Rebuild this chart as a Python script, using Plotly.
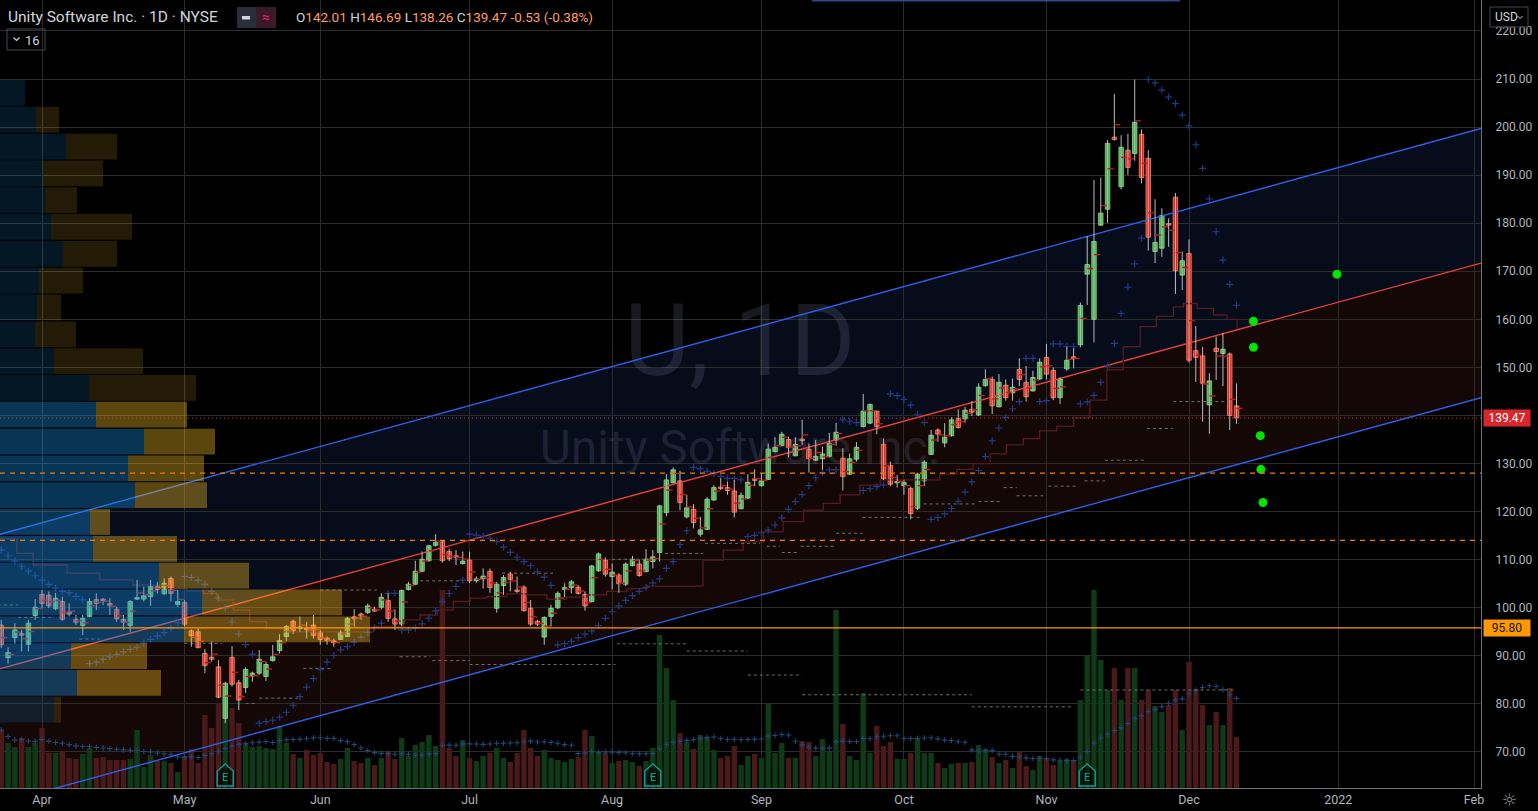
import plotly.graph_objects as go

# ---------------- DATA ----------------
first_index = -6  # bar index of first visible candle (0 = Apr 1 2021)
opens = [96.4, 89.6, 93.8, 94.4, 92.4, 98.4,
         102.8, 102.6, 99.8, 101.3, 99.1, 97.6, 96.3, 98.2, 101.7, 101.7,
         100.9, 99.7, 97.6, 96.3, 101.8, 101.8, 102.3, 104.4, 102.9, 106.1,
         100.7, 101.1, 95.2, 95.0, 90.5, 89.7, 87.7, 77.0, 89.7, 84.4,
         83.4, 85.8, 86.4, 85.7, 89.0, 91.1, 94.0, 97.2, 95.7, 95.7,
         96.4, 95.0, 93.7, 93.1, 93.4, 94.0, 98.1, 98.7, 99.0, 99.7,
         100.1, 101.5, 97.7, 96.6, 103.8, 104.9, 107.6, 109.8, 113.0, 113.8,
         111.7, 110.8, 109.2, 109.9, 105.6, 106.0, 107.6, 99.9, 104.6, 107.0,
         103.7, 104.3, 99.9, 97.2, 93.9, 98.2, 100.0, 103.8, 104.2, 104.3,
         102.8, 101.3, 107.7, 109.9, 106.5, 106.8, 104.9, 108.8, 109.1, 107.5,
         109.6, 111.5, 119.8, 126.0, 126.4, 118.9, 120.5, 115.3, 116.3, 122.4,
         125.0, 125.0, 124.3, 120.6, 122.8, 126.8, 125.4, 126.7, 132.5, 133.7,
         135.0, 131.6, 135.1, 133.0, 130.7, 131.0, 131.5, 134.9, 131.1, 127.8,
         130.9, 137.7, 138.4, 140.9, 134.0, 129.6, 126.0, 125.4, 124.8, 120.7,
         126.4, 131.9, 137.0, 134.3, 135.8, 139.4, 139.3, 141.3, 140.1, 146.2,
         147.5, 141.8, 146.3, 144.7, 149.6, 146.9, 145.1, 147.6, 152.1, 149.4,
         143.7, 149.7, 152.2, 154.7, 169.4, 160.0, 179.6, 182.9, 197.9, 187.6,
         195.2, 194.5, 198.5, 193.5, 174.1, 174.8, 179.8, 185.4, 169.2, 173.7,
         153.5, 152.4, 142.2, 154.0, 152.9, 152.8, 142.01]
highs = [97.5, 91.8, 96.8, 95.4, 97.5, 101.8,
         103.7, 103.4, 103.1, 102.3, 100.9, 98.5, 98.5, 102.0, 103.0, 102.0,
         102.0, 100.2, 98.5, 101.6, 105.8, 104.4, 105.8, 105.4, 106.1, 106.5,
         103.7, 101.6, 95.5, 95.7, 91.4, 93.0, 89.1, 84.6, 92.0, 85.0,
         87.6, 86.7, 91.2, 88.8, 92.3, 94.5, 96.4, 97.5, 98.2, 97.1,
         98.5, 95.4, 94.0, 93.6, 95.4, 98.1, 99.7, 99.0, 100.9, 100.2,
         103.0, 103.0, 99.7, 103.8, 105.4, 109.8, 111.7, 113.1, 115.3, 114.0,
         112.2, 112.0, 111.7, 111.7, 106.5, 108.2, 108.2, 105.4, 106.8, 107.5,
         106.5, 104.7, 101.6, 97.5, 98.2, 100.6, 103.4, 105.1, 105.8, 104.7,
         103.4, 108.9, 111.5, 110.5, 109.2, 107.2, 109.4, 110.8, 110.0, 112.2,
         112.0, 121.4, 127.8, 129.2, 128.5, 123.5, 121.6, 118.9, 123.0, 125.5,
         126.9, 126.2, 126.6, 124.0, 127.8, 128.8, 128.0, 134.2, 135.5, 136.6,
         135.6, 135.5, 139.1, 134.2, 134.9, 133.5, 136.4, 138.5, 133.2, 132.1,
         134.5, 144.5, 142.5, 141.0, 135.2, 130.4, 127.6, 126.6, 125.2, 128.1,
         130.7, 137.0, 137.3, 138.4, 139.6, 141.3, 141.8, 143.0, 146.7, 149.6,
         148.1, 148.6, 147.5, 147.7, 151.9, 150.3, 149.3, 151.9, 154.9, 150.0,
         147.9, 154.3, 154.0, 163.5, 177.3, 189.0, 189.5, 197.3, 206.9, 198.3,
         198.6, 209.9, 199.5, 195.2, 185.0, 183.1, 181.0, 186.3, 174.1, 176.6,
         158.6, 154.3, 148.8, 156.4, 157.2, 153.1, 146.69]
lows = [91.6, 88.4, 92.6, 90.9, 90.9, 97.5,
        99.9, 99.9, 99.5, 97.3, 98.2, 96.4, 94.3, 98.0, 99.5, 100.6,
        98.5, 97.1, 95.4, 95.0, 101.6, 101.3, 100.4, 103.0, 102.7, 101.3,
        100.2, 96.1, 91.9, 91.6, 86.4, 88.8, 81.2, 76.0, 83.6, 78.7,
        82.3, 84.6, 86.0, 84.8, 88.8, 90.5, 93.0, 94.5, 95.0, 93.6,
        93.6, 92.3, 92.3, 91.9, 93.3, 93.9, 96.1, 97.5, 98.7, 99.2,
        99.7, 97.1, 95.4, 96.2, 103.6, 104.7, 107.4, 109.6, 112.7, 109.4,
        109.7, 108.9, 109.0, 105.1, 105.2, 104.0, 103.1, 99.0, 102.7, 103.4,
        103.1, 99.2, 96.2, 96.2, 92.3, 96.1, 99.7, 102.2, 103.0, 102.7,
        99.4, 101.1, 107.5, 106.5, 103.8, 103.1, 104.5, 108.6, 106.5, 107.4,
        108.2, 109.6, 119.0, 125.9, 120.3, 118.6, 116.5, 114.8, 116.2, 122.3,
        124.5, 123.5, 118.8, 120.5, 122.6, 125.3, 125.2, 126.6, 132.3, 133.7,
        131.3, 131.6, 133.9, 128.1, 130.5, 128.7, 131.3, 133.7, 124.4, 127.6,
        130.4, 137.5, 138.2, 136.1, 126.6, 125.3, 125.0, 123.5, 118.4, 120.3,
        125.3, 131.8, 134.5, 133.4, 135.6, 137.3, 138.5, 139.9, 139.9, 146.0,
        140.3, 141.7, 143.1, 143.1, 146.1, 142.9, 145.0, 147.4, 147.5, 143.2,
        142.4, 149.3, 149.8, 154.2, 163.0, 155.2, 179.4, 180.1, 197.2, 187.0,
        190.0, 193.0, 188.3, 174.3, 171.7, 173.0, 175.1, 165.3, 166.1, 151.0,
        147.0, 138.7, 136.2, 147.4, 146.1, 137.0, 138.26]
closes = [92.3, 90.7, 95.4, 94.3, 96.8, 100.1,
          100.9, 100.4, 102.0, 97.6, 98.7, 97.0, 97.8, 101.3, 100.9, 101.5,
          100.5, 97.7, 97.0, 101.3, 101.9, 102.5, 104.4, 103.8, 105.1, 103.0,
          101.3, 96.6, 94.2, 91.7, 88.0, 89.3, 81.4, 84.3, 84.1, 80.8,
          87.2, 86.4, 89.3, 88.2, 89.8, 93.2, 96.1, 95.2, 96.0, 95.4,
          94.2, 93.4, 93.2, 92.7, 94.9, 97.8, 97.7, 98.3, 100.4, 99.3,
          102.2, 97.8, 96.6, 103.6, 104.9, 107.6, 110.1, 112.9, 113.6, 109.8,
          110.2, 110.5, 109.7, 105.6, 106.0, 106.6, 104.2, 104.9, 106.3, 105.9,
          103.4, 99.4, 96.6, 96.6, 98.0, 99.9, 103.0, 104.2, 105.4, 103.0,
          100.4, 108.7, 111.2, 107.0, 107.4, 105.0, 109.1, 110.1, 106.7, 110.1,
          110.6, 121.2, 126.6, 128.7, 121.9, 120.8, 117.7, 116.2, 122.6, 125.0,
          124.8, 124.4, 119.9, 123.4, 126.1, 126.5, 126.4, 133.0, 133.4, 136.1,
          133.3, 134.0, 134.8, 131.0, 131.5, 132.0, 134.2, 136.5, 127.3, 131.0,
          133.4, 140.9, 142.3, 137.7, 126.8, 125.7, 126.2, 126.1, 119.6, 127.8,
          130.3, 135.9, 136.1, 135.5, 139.1, 137.5, 141.1, 140.7, 145.9, 147.5,
          142.0, 146.9, 143.7, 145.9, 147.5, 143.9, 147.9, 151.1, 148.6, 143.7,
          147.6, 151.5, 151.8, 162.9, 171.4, 176.2, 182.1, 196.6, 197.4, 195.8,
          191.6, 201.0, 189.5, 177.1, 176.0, 181.6, 179.6, 170.1, 172.2, 151.5,
          152.1, 146.7, 147.2, 153.3, 153.8, 140.00, 139.47]
volumes = [5.8, 4.5, 4.1, 5.0, 4.1, 4.5,
           6.0, 3.5, 3.5, 3.7, 3.0, 2.9, 3.4, 4.0, 3.0, 3.1,
           2.8, 2.8, 2.8, 2.9, 5.8, 2.1, 3.3, 2.7, 2.7, 2.5,
           1.6, 3.2, 3.9, 2.5, 7.3, 6.0, 8.5, 9.5, 8.0, 6.5,
           4.5, 4.1, 4.2, 4.0, 3.9, 6.2, 4.5, 3.4, 3.0, 3.8,
           3.3, 3.5, 2.6, 2.4, 2.9, 4.0, 2.7, 2.5, 3.0, 2.3,
           3.0, 3.6, 2.9, 5.0, 3.2, 4.3, 4.6, 5.3, 4.2, 19.8,
           4.0, 3.2, 4.8, 3.0, 2.7, 3.2, 3.5, 4.0, 3.0, 2.6,
           3.5, 5.8, 4.0, 3.2, 3.8, 3.0, 2.8, 2.6, 2.9, 3.1,
           5.8, 5.2, 3.7, 3.5, 2.5, 2.7, 2.8, 2.6, 2.2, 2.7,
           4.0, 15.3, 12.0, 8.8, 5.5, 4.6, 3.9, 5.3, 5.0, 3.8,
           3.0, 3.2, 4.2, 2.3, 3.2, 3.4, 3.0, 8.4, 3.5, 4.5,
           3.0, 3.0, 4.7, 4.6, 3.2, 4.9, 3.6, 17.8, 6.4, 3.2,
           2.8, 9.5, 3.5, 6.2, 4.2, 4.6, 2.9, 2.9, 3.5, 5.0,
           3.5, 3.5, 2.5, 2.0, 2.4, 2.5, 2.5, 2.6, 4.3, 3.9,
           3.1, 2.5, 2.8, 2.0, 3.6, 2.2, 1.8, 3.2, 3.0, 2.3,
           2.7, 2.9, 2.8, 8.8, 13.3, 19.8, 12.8, 9.8, 12.0, 8.8,
           12.0, 12.0, 8.8, 9.8, 8.2, 7.6, 8.3, 9.8, 5.8, 12.6,
           9.8, 8.3, 6.3, 7.6, 6.3, 10.0, 5.1]

month_ticks = [0, 21, 41, 63, 84, 106, 127, 148, 169, 191, 211]
month_labels = ["Apr", "May", "Jun", "Jul", "Aug", "Sep", "Oct", "Nov", "Dec", "2022", "Feb"]
price_ticks = [70, 80, 90, 100, 110, 120, 130, 140, 150, 160, 170, 180, 190, 200, 210, 220]

# slow moving average (step line)
ma_idx = [-6.2, -3.7, -1.3, 3.7, 8.5, 13.4, 18.4, 21.3, 23.8, 25.8, 28.2, 30.6, 33.1, 35.6,
          48.8, 53.2, 55.7, 58.2, 60.6, 63.1, 65.5, 68.5, 71.4, 74.4, 77.3, 80.3, 83.2, 86.2, 89.1,
          97.4, 100.4, 103.3, 106.3, 109.2, 112.2, 115.1, 117.6, 120.5, 123.5, 126.4, 129.9,
          132.3, 134.8, 137.2, 139.7, 142.1, 144.6, 147.0, 149.5, 152.0, 154.4, 156.9, 159.3,
          161.8, 164.2, 166.7, 168.2, 170.2, 172.6, 174.6, 176.1]
ma_val = [114.4, 111.3, 108.9, 107.2, 105.8, 104.7, 104.0, 103.5, 103.0, 101.6, 99.5, 97.1, 95.7, 95.0,
          96.1, 97.5, 98.5, 99.5, 101.3, 102.0, 102.3, 102.9, 102.7, 101.8, 102.2, 102.7, 103.4, 104.0, 104.5,
          109.9, 112.0, 113.7, 115.8, 117.9, 120.3, 121.7, 123.5, 125.5, 126.6, 126.6, 126.6,
          127.8, 128.8, 130.0, 132.0, 133.9, 135.2, 136.8, 137.8, 139.5, 143.2, 149.5, 154.3,
          158.5, 160.6, 162.6, 163.3, 162.3, 160.9, 160.0, 158.1]

# grey dashed level segments (start bar, end bar, price)
seg_start = [-6.5, -3.5, 5.5, 21.0, 30.0, 32.0, 38.5, 41.0, 52.7, 55.7, 57.5, 63.0, 67.8, 84.0, 84.7,
             91.8, 95.0, 97.7, 104.0, 106.8, 109.0, 111.8, 112.0, 117.0, 120.9, 129.9, 137.0, 138.0,
             141.7, 143.6, 148.3, 153.0, 153.6, 156.6, 162.8, 166.7]
seg_end = [-3.5, 1.5, 8.5, 26.5, 31.6, 38.0, 42.5, 49.3, 57.2, 62.0, 63.0, 84.5, 75.3, 89.6, 95.0,
           97.4, 104.0, 105.8, 112.0, 108.7, 111.5, 117.0, 137.0, 120.9, 129.4, 137.7, 152.0, 141.4,
           143.6, 147.5, 152.5, 176.0, 156.6, 162.5, 166.6, 175.3]
seg_level = [100.6, 98.0, 93.5, 92.6, 80.1, 81.2, 87.4, 103.7, 89.8, 105.6, 89.0, 88.2, 107.2, 110.1, 92.5,
             111.3, 91.0, 113.4, 86.0, 112.8, 111.5, 112.8, 81.9, 115.5, 118.8, 121.6, 79.4, 122.1,
             125.0, 123.3, 125.3, 82.9, 126.4, 130.7, 137.3, 142.9]

# visible-range volume profile (24 rows, top row first)
prof_rows = 24
prof_up = [2.5, 3.6, 6.6, 4.3, 4.5, 5.1, 6.3, 3.9, 3.7, 3.5, 5.4, 8.9,
           9.6, 14.4, 12.8, 13.5, 9.0, 9.3, 15.9, 20.2, 18.4, 7.1, 7.7, 5.4]
prof_down = [0.0, 2.3, 5.1, 6.0, 3.2, 8.1, 5.4, 4.4, 2.4, 4.1, 8.9, 10.7,
             9.1, 7.1, 7.6, 7.2, 2.0, 8.4, 9.0, 14.0, 18.6, 7.6, 8.4, 0.7]
prof_in_value_area = [0] * 12 + [1] * 11 + [0]

# regression channel (middle line at left edge bar, slope per bar, deviation)
reg_i0 = -6.19
reg_mid0 = 87.3
reg_slope = 0.3868
reg_dev = 28.0

# parabolic SAR initial state
sar_init, sar_ep_init, sar_af_init = 112.0, 88.4, 0.05

# horizontal levels
last_price = 139.47
level_solid = 95.80
alert_levels = [128.0, 114.0]

# projection dots
dot_idx = [190.8, 178.5, 178.5, 179.5, 179.6, 179.9]
dot_val = [169.4, 159.6, 154.2, 135.8, 128.8, 121.9]

earnings_idx = [27, 90, 154]

# ---------------- LAYOUT CONSTANTS ----------------
W, H = 1538, 811
PW, PH = 1481, 788          # plot area in pixels
BAR_PX = 6.787
X0 = -42 / BAR_PX
X1 = (PW - 42) / BAR_PX
PX_PER_USD = 4.807
Y_TOP = 210 + 79 / PX_PER_USD
Y_BOT = 210 - (PH - 79) / PX_PER_USD
VOL_PX = 10.0                # pixels per volume unit
FONT = "Roboto"

idx = list(range(first_index, first_index + len(opens)))
n = len(idx)

def px(x):
    return x / PW

def py(y):
    return 1 - y / PH

# ---------------- DERIVED ----------------
def psar(h, l, s0, e0, a0, step=0.02, amax=0.2):
    out = [s0]
    sar, ep, af, down = s0, e0, a0, True
    for t in range(1, len(h)):
        s = sar + af * (ep - sar)
        if down:
            s = max([s, h[t - 1]] + ([h[t - 2]] if t >= 2 else []))
            if h[t] > s:
                down, s, ep, af = False, ep, h[t], step
            elif l[t] < ep:
                ep, af = l[t], min(af + step, amax)
        else:
            s = min([s, l[t - 1]] + ([l[t - 2]] if t >= 2 else []))
            if l[t] < s:
                down, s, ep, af = True, ep, l[t], step
            elif h[t] > ep:
                ep, af = h[t], min(af + step, amax)
        sar = s
        out.append(s)
    return out

sar = psar(highs, lows, sar_init, sar_ep_init, sar_af_init)
vol_ma = []
for t in range(n):
    w = volumes[max(0, t - 19):t + 1]
    vol_ma.append(sum(w) / len(w))
hlc3 = [(h + l + c) / 3 for h, l, c in zip(highs, lows, closes)]
up = [c >= o for o, c in zip(opens, closes)]

# ---------------- FIGURE ----------------
fig = go.Figure()

# volume (base subplot)
fig.add_trace(go.Bar(
    x=idx, y=volumes, width=0.8,
    marker=dict(color=["#0f3a17" if u else "#4a1919" for u in up], line=dict(width=0)),
    xaxis="x", yaxis="y", hoverinfo="skip"))
fig.add_trace(go.Scatter(
    x=idx, y=vol_ma, mode="markers", xaxis="x", yaxis="y",
    marker=dict(symbol="cross-thin", size=4, line=dict(color="#22467a", width=1.1)),
    hoverinfo="skip"))

# watermark (under price traces)
fig.add_trace(go.Scatter(
    x=[(740 - 42) / BAR_PX, (740 - 42) / BAR_PX], y=[(PH - 350) / VOL_PX, (PH - 452) / VOL_PX],
    mode="text", text=["U, 1D", "Unity Software Inc."], xaxis="x", yaxis="y",
    textfont=dict(family=FONT, size=[100, 48], color="rgba(120,130,160,0.2)"),
    textposition="middle center", hoverinfo="skip"))

# regression channel lines
edge = [X0, X1]
mid = [reg_mid0 + reg_slope * (e - reg_i0) for e in edge]
for off, col in [(reg_dev, "#2e5fe8"), (-reg_dev, "#2e5fe8"), (0, "#e8403c")]:
    fig.add_trace(go.Scatter(x=edge, y=[m + off for m in mid], mode="lines",
                             line=dict(color=col, width=1.4), xaxis="x", yaxis="y2",
                             hoverinfo="skip"))

# slow MA step line
fig.add_trace(go.Scatter(x=ma_idx, y=ma_val, mode="lines", line=dict(color="#551b21", width=1.3, shape="hv"),
                         xaxis="x", yaxis="y2", hoverinfo="skip"))

# dashed grey levels
sx, sy = [], []
for a, b, v in zip(seg_start, seg_end, seg_level):
    sx += [a, b, None]
    sy += [v, v, None]
fig.add_trace(go.Scatter(x=sx, y=sy, mode="lines", line=dict(color="#6e6e6e", width=1, dash="3px,3px"),
                         xaxis="x", yaxis="y2", hoverinfo="skip", connectgaps=False))

# parabolic SAR (behind candles)
fig.add_trace(go.Scatter(x=idx, y=sar, mode="markers", xaxis="x", yaxis="y2",
                         marker=dict(symbol="cross-thin", size=5, line=dict(color="#233887", width=1.2)),
                         hoverinfo="skip"))

# wicks
wx, wy = [], []
for i, h, l in zip(idx, highs, lows):
    wx += [i, i, None]
    wy += [l, h, None]
fig.add_trace(go.Scatter(x=wx, y=wy, mode="lines", line=dict(color="#b8bcc4", width=1),
                         xaxis="x", yaxis="y2", hoverinfo="skip"))

# candle bodies
base = [min(o, c) for o, c in zip(opens, closes)]
hgt = [max(abs(c - o), 0.3) for o, c in zip(opens, closes)]
fig.add_trace(go.Bar(
    x=idx, y=hgt, base=base, width=0.66, xaxis="x", yaxis="y2",
    marker=dict(color=["#45b349" if u else "#e8231c" for u in up],
                line=dict(color=["#8fd88a" if u else "#ff8a5c" for u in up], width=0.8)),
    hoverinfo="skip"))

# per-bar VWAP ticks
tx, ty = [], []
for i, v in zip(idx, hlc3):
    tx += [i, i + 0.9, None]
    ty += [v, v, None]
fig.add_trace(go.Scatter(x=tx, y=ty, mode="lines", line=dict(color="#b3201d", width=1.4),
                         xaxis="x", yaxis="y2", hoverinfo="skip"))

# projection dots
fig.add_trace(go.Scatter(x=dot_idx, y=dot_val, mode="markers", xaxis="x", yaxis="y2",
                         marker=dict(color="#00e400", size=9), hoverinfo="skip", cliponaxis=False))

# alert triangles on price scale
fig.add_trace(go.Scatter(x=[X1 + 6 / BAR_PX] * len(alert_levels), y=alert_levels, mode="markers",
                         xaxis="x", yaxis="y2", cliponaxis=False,
                         marker=dict(symbol="triangle-left", size=10, color="#ff9800"), hoverinfo="skip"))

# volume profile (on top)
row_h = (max(highs) - min(lows)) / prof_rows
centers = [max(highs) - (k + 0.5) * row_h for k in range(prof_rows)]
fig.add_trace(go.Bar(
    x=prof_up, y=centers, base=[0] * prof_rows, orientation="h", width=row_h * 0.96,
    xaxis="x2", yaxis="y2", hoverinfo="skip",
    marker=dict(color=["rgba(21,146,230,0.36)" if v else "rgba(21,146,230,0.16)" for v in prof_in_value_area],
                line=dict(width=0))))
fig.add_trace(go.Bar(
    x=prof_down, y=centers, base=prof_up, orientation="h", width=row_h * 0.96,
    xaxis="x2", yaxis="y2", hoverinfo="skip",
    marker=dict(color=["rgba(251,193,35,0.36)" if v else "rgba(251,193,35,0.14)" for v in prof_in_value_area],
                line=dict(width=0))))

# ---------------- SHAPES ----------------
shapes = []
up_l, up_r = mid[0] + reg_dev, mid[1] + reg_dev
lo_l, lo_r = mid[0] - reg_dev, mid[1] - reg_dev
shapes.append(dict(type="path", xref="x", yref="y2", layer="below", line=dict(width=0),
                   fillcolor="#070c1b",
                   path=f"M {X0},{up_l} L {X1},{up_r} L {X1},{mid[1]} L {X0},{mid[0]} Z"))
shapes.append(dict(type="path", xref="x", yref="y2", layer="below", line=dict(width=0),
                   fillcolor="#140807",
                   path=f"M {X0},{mid[0]} L {X1},{mid[1]} L {X1},{lo_r} L {X0},{lo_l} Z"))
# level lines
shapes.append(dict(type="line", xref="paper", yref="y2", x0=0, x1=1, y0=level_solid, y1=level_solid,
                   line=dict(color="#ff9800", width=1.2), layer="above"))
shapes.append(dict(type="line", xref="paper", yref="y2", x0=0, x1=1, y0=last_price, y1=last_price,
                   line=dict(color="#e0302b", width=1, dash="1px,3px"), layer="above"))
for lv in alert_levels:
    shapes.append(dict(type="line", xref="paper", yref="y2", x0=0, x1=1, y0=lv, y1=lv,
                       line=dict(color="#f57c00", width=1.2, dash="5px,5px"), layer="above"))
# earnings markers
ew = 8 / BAR_PX
for e in earnings_idx:
    shapes.append(dict(type="path", xref="x", yref="paper", layer="above",
                       line=dict(color="#0a9c92", width=1.5), fillcolor="rgba(0,0,0,0.55)",
                       path=(f"M {e - ew},{py(786)} L {e - ew},{py(771)} L {e},{py(764)} "
                             f"L {e + ew},{py(771)} L {e + ew},{py(786)} Z")))
# header widgets
shapes += [
    dict(type="rect", xref="paper", yref="paper", x0=px(237), x1=px(256), y0=py(7), y1=py(28),
         fillcolor="#2a2e39", line=dict(width=0)),
    dict(type="rect", xref="paper", yref="paper", x0=px(256), x1=px(276), y0=py(7), y1=py(28),
         fillcolor="#3a1a26", line=dict(width=0)),
    dict(type="rect", xref="paper", yref="paper", x0=px(242), x1=px(250), y0=py(16), y1=py(19.5),
         fillcolor="#d1d4dc", line=dict(width=0)),
    dict(type="rect", xref="paper", yref="paper", x0=px(7), x1=px(45), y0=py(29), y1=py(50),
         line=dict(color="#434651", width=1), fillcolor="rgba(0,0,0,0)"),
    dict(type="path", xref="paper", yref="paper", line=dict(color="#d1d4dc", width=1.2),
         path=f"M {px(13.5)},{py(37.5)} L {px(16.5)},{py(40.5)} L {px(19.5)},{py(37.5)}"),
    dict(type="rect", xref="paper", yref="paper", x0=px(1490), x1=px(1528), y0=py(7), y1=py(27),
         line=dict(color="#434651", width=1), fillcolor="rgba(0,0,0,0.6)"),
    dict(type="path", xref="paper", yref="paper", line=dict(color="#d1d4dc", width=1),
         path=f"M {px(1517.5)},{py(16)} L {px(1520)},{py(18.5)} L {px(1522.5)},{py(16)}"),
    dict(type="line", xref="paper", yref="paper", x0=px(812), x1=px(1180), y0=py(0.5), y1=py(0.5),
         line=dict(color="rgba(60,90,170,0.8)", width=2)),
]

# ---------------- ANNOTATIONS ----------------
orange = "#ff9d6a"
chg = closes[-1] - closes[-2]
ohlc_text = (f"O<span style='color:{orange}'>{opens[-1]:.2f}</span> "
             f"H<span style='color:{orange}'>{highs[-1]:.2f}</span> "
             f"L<span style='color:{orange}'>{lows[-1]:.2f}</span> "
             f"C<span style='color:{orange}'>{closes[-1]:.2f}</span> "
             f"<span style='color:{orange}'>{chg:+.2f} "
             f"({chg / closes[-2] * 100:+.2f}%)</span>")
annotations = [
    dict(text="Unity Software Inc. · 1D · NYSE", xref="paper", yref="paper", x=px(6), y=py(17.5),
         xanchor="left", yanchor="middle", showarrow=False, font=dict(family=FONT, size=15.5, color="#d1d4dc")),
    dict(text="≈", xref="paper", yref="paper", x=px(266), y=py(17), xanchor="center", yanchor="middle",
         showarrow=False, font=dict(family=FONT, size=14, color="#e91e63")),
    dict(text=ohlc_text, xref="paper", yref="paper", x=px(294), y=py(17.5), xanchor="left", yanchor="middle",
         showarrow=False, font=dict(family=FONT, size=13.5, color="#d1d4dc")),
    dict(text="16", xref="paper", yref="paper", x=px(23), y=py(40), xanchor="left", yanchor="middle",
         showarrow=False, font=dict(family=FONT, size=13, color="#d1d4dc")),
    dict(text="USD", xref="paper", yref="paper", x=px(1493), y=py(17), xanchor="left", yanchor="middle",
         showarrow=False, font=dict(family=FONT, size=12, color="#d1d4dc")),
    dict(text=f"{last_price:.2f}", xref="paper", yref="y2", x=1, y=last_price, xanchor="left", yanchor="middle",
         xshift=2, showarrow=False, bgcolor="#d8262a", width=44, height=14, borderpad=1,
         font=dict(family=FONT, size=12, color="#ffffff")),
    dict(text=f"{level_solid:.2f}", xref="paper", yref="y2", x=1, y=level_solid, xanchor="left", yanchor="middle",
         xshift=2, showarrow=False, bgcolor="#ff9800", width=44, height=14, borderpad=1,
         font=dict(family=FONT, size=12, color="#131722")),
    dict(text="☼", xref="paper", yref="paper", x=px(1509), y=py(800), xanchor="center", yanchor="middle",
         showarrow=False, font=dict(family="DejaVu Sans", size=17, color="#9598a1")),
]
for e in earnings_idx:
    annotations.append(dict(text="E", xref="x", yref="paper", x=e, y=py(777), xanchor="center",
                            yanchor="middle", showarrow=False,
                            font=dict(family=FONT, size=11, color="#12a89c")))

# hide the scale label that sits under the last-price tag
price_ticktext = ["" if abs(v - last_price) < 3 else f"{v:.2f}" for v in price_ticks]

fig.update_layout(
    width=W, height=H, margin=dict(l=0, r=W - PW, t=0, b=H - PH),
    paper_bgcolor="#000000", plot_bgcolor="#000000",
    showlegend=False, hovermode=False, barmode="overlay",
    font=dict(family=FONT, color="#b2b5be"),
    xaxis=dict(range=[X0, X1], tickmode="array", tickvals=month_ticks, ticktext=month_labels,
               showgrid=True, gridcolor="#2c2c2c", gridwidth=1, zeroline=False,
               showline=True, linecolor="#6f727b", linewidth=1, ticks="",
               tickfont=dict(family=FONT, size=12.5, color="#b2b5be"), fixedrange=True),
    xaxis2=dict(range=[0, PW / VOL_PX], overlaying="x", visible=False, fixedrange=True),
    yaxis=dict(range=[0, PH / VOL_PX], visible=False, fixedrange=True),
    yaxis2=dict(range=[Y_BOT, Y_TOP], overlaying="y", side="right", anchor="x",
                tickmode="array", tickvals=price_ticks, ticktext=price_ticktext,
                showgrid=True, gridcolor="#2c2c2c", gridwidth=1, zeroline=False,
                showline=True, linecolor="#6f727b", linewidth=1, ticks="", ticklabelstandoff=11,
                tickfont=dict(family=FONT, size=12, color="#b2b5be"), fixedrange=True),
    shapes=shapes, annotations=annotations,
)

fig.write_html("out.html", include_plotlyjs=True, full_html=True,
               config={"displayModeBar": False, "staticPlot": True},
               post_script="document.body.style.margin='0';document.body.style.background='#000';")
